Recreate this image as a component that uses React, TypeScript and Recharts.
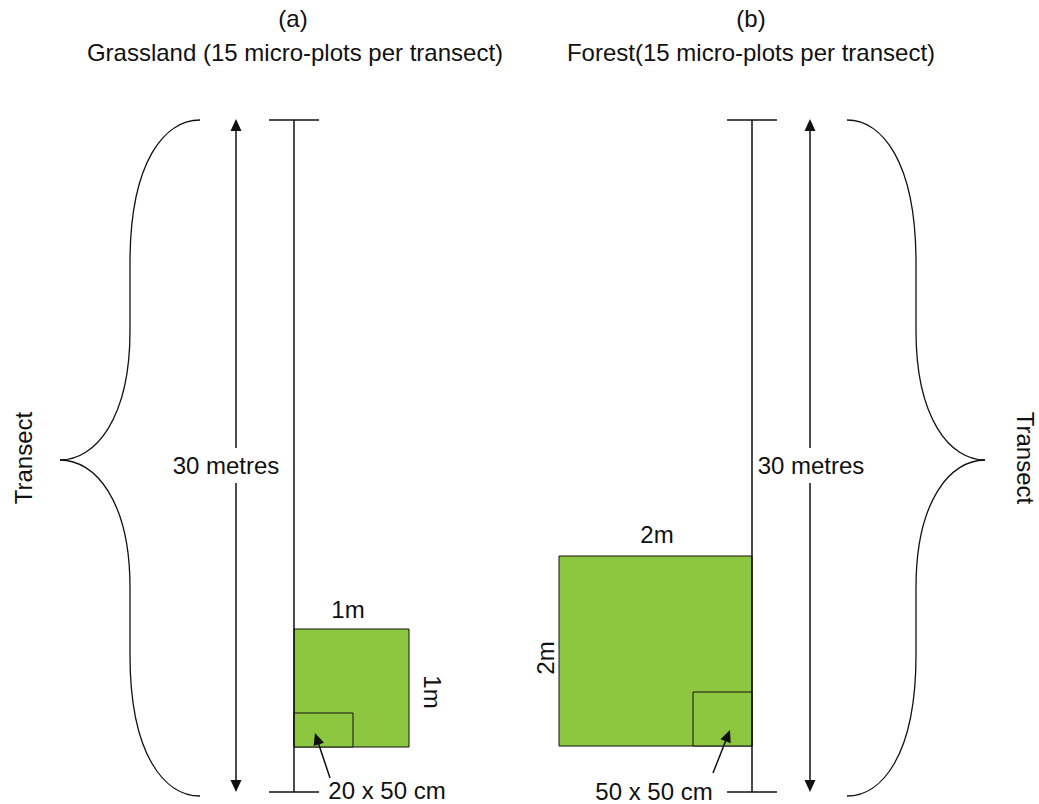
import React from 'react';
import {
  ComposedChart,
  XAxis,
  YAxis,
  Scatter,
  ReferenceLine,
  ReferenceArea,
  ReferenceDot,
} from 'recharts';

const WIDTH = 1039;
const HEIGHT = 804;

// layout units follow the picture itself, y counted downward from the top

// transect poles with a cap at each end
const poleX = [294, 752];
const poleTop = 120;
const poleBottom = 792;
const poleCapHalf = 25;

// double arrows giving the 30 m span, broken where the label sits
const spanX = [236, 810];
const spanTop = 119;
const spanBottom = 792;
const spanGap = [448, 483];

// curly braces: end points on the transect side, tip on the outer side
const braceEndX = [200, 847];
const braceTipX = [60, 985];
const braceTop = 120;
const braceTip = 460;
const braceBottom = 796;

// plots (1m x 1m and 2m x 2m) and the micro-plots inside them
const plots = [
  { x1: 294, x2: 409, y1: 629, y2: 747 },
  { x1: 559, x2: 752, y1: 556, y2: 746 },
];
const subPlots = [
  { x1: 294, x2: 353, y1: 713, y2: 747 },
  { x1: 693, x2: 752, y1: 692, y2: 746 },
];

// pointer arrows from the size labels to the micro-plots
const pointers = [
  { from: { x: 330, y: 778 }, to: { x: 315, y: 733 } },
  { from: { x: 713, y: 773 }, to: { x: 730, y: 730 } },
];

const labels = [
  { x: 293, y: 27, text: '(a)', angle: 0 },
  { x: 295, y: 61, text: 'Grassland (15 micro-plots per transect)', angle: 0 },
  { x: 751, y: 27, text: '(b)', angle: 0 },
  { x: 751, y: 61, text: 'Forest(15 micro-plots per transect)', angle: 0 },
  { x: 226, y: 474, text: '30 metres', angle: 0 },
  { x: 811, y: 474, text: '30 metres', angle: 0 },
  { x: 348, y: 618, text: '1m', angle: 0 },
  { x: 424, y: 692, text: '1m', angle: 90 },
  { x: 387, y: 799, text: '20 x 50 cm', angle: 0 },
  { x: 657, y: 543, text: '2m', angle: 0 },
  { x: 554, y: 658, text: '2m', angle: -90 },
  { x: 654, y: 800, text: '50 x 50 cm', angle: 0 },
  { x: 32, y: 458, text: 'Transect', angle: -90 },
  { x: 1017, y: 458, text: 'Transect', angle: 90 },
];

const frame = [
  { x: 0, y: 0 },
  { x: WIDTH, y: HEIGHT },
];

const INK = '#111';
const GREEN = '#8dc63f';
const FONT = '"Liberation Sans", Arial, Helvetica, sans-serif';

const ArrowShape = (p: any) => {
  const { x1, y1, x2, y2 } = p;
  const a = Math.atan2(y2 - y1, x2 - x1);
  const len = 12;
  const half = 5.5;
  const bx = x2 - len * Math.cos(a);
  const by = y2 - len * Math.sin(a);
  const nx = -Math.sin(a) * half;
  const ny = Math.cos(a) * half;
  return (
    <g>
      <line x1={x1} y1={y1} x2={bx + 2 * Math.cos(a)} y2={by + 2 * Math.sin(a)} stroke={INK} strokeWidth={1.5} />
      <polygon points={`${x2},${y2} ${bx + nx},${by + ny} ${bx - nx},${by - ny}`} fill={INK} />
    </g>
  );
};

// half a brace, from its end (x1,y1) to its tip (x2,y2)
const BraceShape = (p: any) => {
  const { x1, y1, x2, y2 } = p;
  const xm = (x1 + x2) / 2;
  const h = y2 - y1;
  const d = [
    `M${x1},${y1}`,
    `C${x1 + 0.5 * (xm - x1)},${y1} ${xm},${y1 + 0.12 * h} ${xm},${y1 + 0.42 * h}`,
    `L${xm},${y2 - 0.38 * h}`,
    `C${xm},${y2 - 0.12 * h} ${x2 + 0.5 * (xm - x2)},${y2} ${x2},${y2}`,
  ].join(' ');
  return <path d={d} fill="none" stroke={INK} strokeWidth={1.3} />;
};

const App: React.FC = () => {
  return (
    <div style={{ position: 'absolute', left: 0, top: 0, width: WIDTH, height: HEIGHT, background: '#fff' }}>
      <ComposedChart
        width={WIDTH}
        height={HEIGHT}
        data={frame}
        margin={{ top: 0, right: 0, bottom: 0, left: 0 }}
        style={{ fontFamily: FONT }}
      >
        <XAxis type="number" dataKey="x" domain={[0, WIDTH]} allowDataOverflow hide />
        <YAxis type="number" dataKey="y" domain={[0, HEIGHT]} allowDataOverflow reversed hide />
        <Scatter data={frame} dataKey="y" isAnimationActive={false} shape={() => <g />} />

        {plots.map((r, i) => (
          <ReferenceArea
            key={`plot-${i}`}
            x1={r.x1}
            x2={r.x2}
            y1={r.y1}
            y2={r.y2}
            fill={GREEN}
            fillOpacity={1}
            stroke={INK}
            strokeWidth={1}
          />
        ))}
        {subPlots.map((r, i) => (
          <ReferenceArea
            key={`sub-${i}`}
            x1={r.x1}
            x2={r.x2}
            y1={r.y1}
            y2={r.y2}
            fill={GREEN}
            fillOpacity={1}
            stroke={INK}
            strokeWidth={1}
          />
        ))}

        {poleX.map((x, i) => (
          <ReferenceLine
            key={`pole-${i}`}
            segment={[{ x, y: poleTop }, { x, y: poleBottom }]}
            stroke={INK}
            strokeWidth={1.5}
          />
        ))}
        {poleX.map((x, i) =>
          [poleTop, poleBottom].map((y, j) => (
            <ReferenceLine
              key={`cap-${i}-${j}`}
              segment={[{ x: x - poleCapHalf, y }, { x: x + poleCapHalf, y }]}
              stroke={INK}
              strokeWidth={1.5}
            />
          ))
        )}

        {spanX.map((x, i) => (
          <ReferenceLine
            key={`span-up-${i}`}
            segment={[{ x, y: spanGap[0] }, { x, y: spanTop }]}
            shape={ArrowShape}
          />
        ))}
        {spanX.map((x, i) => (
          <ReferenceLine
            key={`span-down-${i}`}
            segment={[{ x, y: spanGap[1] }, { x, y: spanBottom }]}
            shape={ArrowShape}
          />
        ))}

        {braceEndX.map((x, i) =>
          [braceTop, braceBottom].map((y, j) => (
            <ReferenceLine
              key={`brace-${i}-${j}`}
              segment={[{ x, y }, { x: braceTipX[i], y: braceTip }]}
              shape={BraceShape}
            />
          ))
        )}

        {pointers.map((p, i) => (
          <ReferenceLine key={`ptr-${i}`} segment={[p.from, p.to]} shape={ArrowShape} />
        ))}

        {labels.map((l, i) => (
          <ReferenceDot
            key={`lbl-${i}`}
            x={l.x}
            y={l.y}
            r={0}
            shape={(p: any) => (
              <text
                x={p.cx}
                y={p.cy}
                transform={l.angle ? `rotate(${l.angle} ${p.cx} ${p.cy})` : undefined}
                textAnchor="middle"
                fontSize={24}
                fontFamily={FONT}
                fill={INK}
              >
                {l.text}
              </text>
            )}
          />
        ))}
      </ComposedChart>
    </div>
  );
};

export default App;
